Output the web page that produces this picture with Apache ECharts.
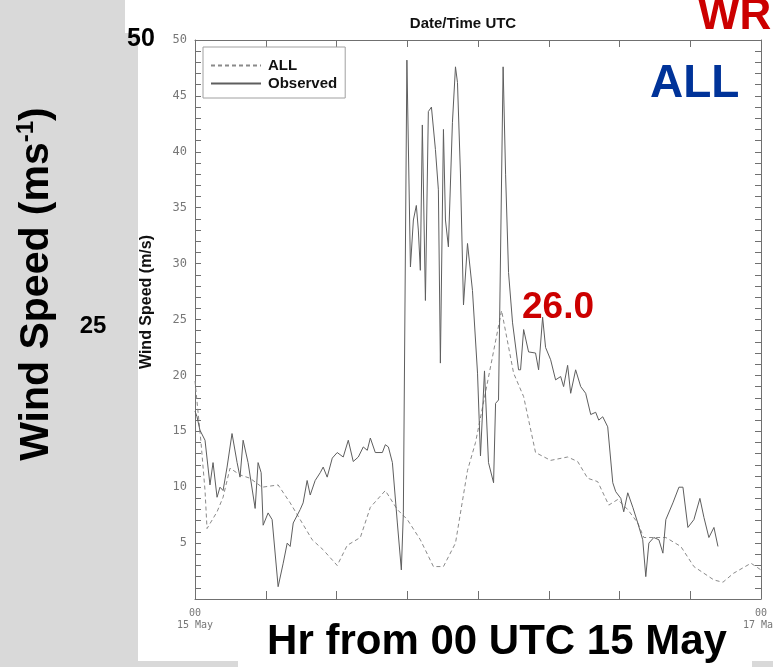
<!DOCTYPE html>
<html>
<head>
<meta charset="utf-8">
<script src="https://cdn.jsdelivr.net/npm/echarts@6/dist/echarts.min.js"></script>
<style>
html,body{margin:0;padding:0;background:#fff;}
#chart{width:773px;height:667px;}
</style>
</head>
<body>
<div id="chart"></div>
<script>
// Hours from 00 UTC 15 May, wind speed (m/s)
var obsHours = [0,0.17,0.42,0.85,1.27,1.53,1.87,2.12,2.38,2.72,3.14,3.57,3.82,4.08,4.50,5.10,5.35,5.61,5.78,6.20,6.54,7.05,7.48,7.82,8.07,8.33,8.92,9.17,9.51,9.77,10.19,10.62,10.87,11.21,11.64,12.06,12.57,13.00,13.42,13.85,14.27,14.61,14.87,15.29,15.89,16.14,16.40,16.74,17.16,17.50,17.67,17.97,18.27,18.52,18.77,18.94,19.11,19.28,19.54,19.79,20.05,20.39,20.64,20.81,21.07,21.24,21.49,21.83,22.09,22.26,22.51,22.77,23.11,23.53,23.96,24.21,24.55,24.89,25.32,25.49,25.74,26.13,26.34,26.59,26.93,27.44,27.61,27.87,28.29,28.88,29.14,29.48,29.73,30.16,30.58,31.01,31.26,31.60,31.86,32.28,32.71,33.13,33.56,33.98,34.24,34.58,35.00,35.43,35.68,36.11,36.36,36.70,37.13,37.55,37.97,38.23,38.49,38.91,39.34,39.68,39.93,40.53,41.04,41.38,41.80,42.31,42.82,43.16,43.58,44.01,44.35];
var obsSpeed = [16.8,16.3,15.1,14.2,10.2,12.2,9.1,10.0,9.7,11.8,14.8,12.2,10.9,14.2,12.2,8.1,12.2,11.3,6.6,7.7,7.1,1.1,3.2,5.0,4.7,6.8,8.0,8.6,10.6,9.3,10.6,11.3,11.8,10.9,12.6,13.1,12.7,14.2,12.3,12.7,13.6,13.3,14.4,13.1,13.1,13.8,13.6,12.2,6.8,2.6,7.7,48.2,29.7,33.9,35.2,33.0,29.4,42.4,26.7,43.6,44.0,40.2,36.6,21.1,42.0,33.9,31.5,42.6,47.6,46.2,38.1,26.3,31.8,27.6,20.2,12.8,20.4,12.2,10.4,17.5,17.8,47.6,38.0,29.2,24.7,20.5,20.5,24.1,22.1,22.0,20.5,25.2,22.5,21.4,19.6,19.9,19.0,20.9,18.4,20.5,19.0,18.4,16.5,16.7,16.0,16.3,15.4,10.4,9.6,9.0,7.8,9.5,8.2,6.8,5.3,2.0,5.0,5.5,5.3,4.1,7.1,8.6,10.0,10.0,6.4,7.1,9.0,7.3,5.5,6.4,4.7];
var allHours = [0,0.51,0.85,1.02,1.87,2.38,2.97,3.82,4.67,5.69,7.05,8.07,8.92,9.94,10.87,12.06,12.91,14.02,14.87,16.14,17.16,18.01,19.11,20.22,21.07,22.09,23.11,23.79,24.64,26.00,27.02,27.87,28.88,30.16,31.60,32.45,33.30,34.15,35.09,35.85,36.70,37.55,38.06,39.93,41.20,42.31,44.01,44.77,45.67,47.15,48.0];
var allSpeed = [19.5,14.0,9.7,6.3,7.8,9.1,11.7,11.1,10.8,10.0,10.2,8.6,7.1,5.3,4.4,3.0,4.8,5.5,8.2,9.7,8.0,7.1,5.3,2.9,2.9,5.0,11.5,14.0,18.5,25.8,20.2,18.1,13.1,12.4,12.7,12.3,10.8,10.5,8.4,8.9,8.0,6.8,5.5,5.5,4.7,2.9,1.7,1.5,2.3,3.2,2.6];
var xEndLabels = {0: '00\n15 May', 48: '00\n17 May'};
var yLabelStep = 5;
var seriesNames = ['ALL', 'Observed'];

function zip(a, b) { return a.map(function (v, i) { return [v, b[i]]; }); }

var chart = echarts.init(document.getElementById('chart'), null, {renderer: 'canvas'});
var axisGray = '#707070';
var monoFont = 'DejaVu Sans Mono';
var boldFont = 'Liberation Sans';

var option = {
  backgroundColor: '#ffffff',
  animation: false,
  grid: {left: 195, right: 12, top: 40, bottom: 68, containLabel: false, outerBoundsMode: 'none'},
  legend: {
    orient: 'vertical', left: 203, top: 47,
    padding: [11, 8, 7, 7],
    itemWidth: 50, itemHeight: 12, itemGap: 3,
    borderColor: '#a0a0a0', borderWidth: 1, backgroundColor: '#ffffff',
    itemStyle: {opacity: 0},
    textStyle: {fontFamily: boldFont, fontWeight: 'bold', fontSize: 15, color: '#111', padding: [0, 0, 0, 2]},
    data: seriesNames
  },
  xAxis: [{
    type: 'value', min: 0, max: 48, interval: 6, position: 'bottom',
    axisLine: {show: true, onZero: false, lineStyle: {color: axisGray, width: 1}},
    axisTick: {show: true, inside: true, length: 8, lineStyle: {color: axisGray}},
    splitLine: {show: false},
    axisLabel: {
      show: true, margin: 8, showMinLabel: true, showMaxLabel: true, hideOverlap: false,
      fontFamily: monoFont, fontSize: 10, lineHeight: 12, color: '#777',
      formatter: function (v) { return xEndLabels[v] || ''; }
    }
  }, {
    type: 'value', min: 0, max: 48, interval: 6, position: 'top',
    axisLine: {show: true, onZero: false, lineStyle: {color: axisGray, width: 1}},
    axisTick: {show: true, inside: true, length: 7, lineStyle: {color: axisGray}},
    splitLine: {show: false}, axisLabel: {show: false}
  }],
  yAxis: [{
    type: 'value', min: 0, max: 50, interval: 1, position: 'left',
    axisLine: {show: true, onZero: false, lineStyle: {color: axisGray, width: 1}},
    axisTick: {show: true, inside: true, length: 6, lineStyle: {color: axisGray}},
    splitLine: {show: false},
    axisLabel: {
      show: true, margin: 8, fontFamily: monoFont, fontSize: 12, color: '#777', hideOverlap: false,
      showMinLabel: true, showMaxLabel: true,
      formatter: function (v) { return (v !== 0 && v % yLabelStep === 0) ? String(v) : ''; }
    }
  }, {
    type: 'value', min: 0, max: 50, interval: 1, position: 'right',
    axisLine: {show: true, onZero: false, lineStyle: {color: axisGray, width: 1}},
    axisTick: {show: true, inside: true, length: 6, lineStyle: {color: axisGray}},
    splitLine: {show: false}, axisLabel: {show: false}
  }],
  series: [{
    name: seriesNames[0], type: 'line', symbol: 'none', xAxisIndex: 1, yAxisIndex: 1,
    data: zip(allHours, allSpeed),
    lineStyle: {color: '#8a8a8a', width: 1, type: [4, 3]},
    itemStyle: {color: '#8a8a8a'}, z: 2
  }, {
    name: seriesNames[1], type: 'line', symbol: 'none', xAxisIndex: 0, yAxisIndex: 0,
    data: zip(obsHours, obsSpeed),
    lineStyle: {color: '#5e5e5e', width: 1},
    itemStyle: {color: '#5e5e5e'}, z: 3
  }],
  graphic: [
    {type: 'polygon', z: -10, silent: true,
      shape: {points: [[0, 0], [125, 0], [125, 33], [138, 33], [138, 667], [0, 667]]},
      style: {fill: '#d9d9d9'}},
    {type: 'rect', z: -10, silent: true, shape: {x: 138, y: 661, width: 100, height: 6}, style: {fill: '#d9d9d9'}},
    {type: 'rect', z: -10, silent: true, shape: {x: 752, y: 661, width: 21, height: 6}, style: {fill: '#d9d9d9'}},
    {type: 'text', x: 37, y: 284, rotation: Math.PI / 2, z: 10,
      style: {
        text: '{a|Wind Speed (ms}{s|-1}{a|)}',
        align: 'center', verticalAlign: 'middle',
        rich: {
          a: {fontFamily: boldFont, fontWeight: 'bold', fontSize: 41, lineHeight: 46, color: '#000'},
          s: {fontFamily: boldFont, fontWeight: 'bold', fontSize: 24, lineHeight: 26, verticalAlign: 'top', color: '#000'}
        }
      }},
    {type: 'text', x: 147, y: 302, rotation: Math.PI / 2, z: 10,
      style: {text: 'Wind Speed (m/s)', align: 'center', verticalAlign: 'middle',
        fontFamily: boldFont, fontWeight: 'bold', fontSize: 16, fill: '#111'}},
    {type: 'text', x: 141, y: 39, z: 10,
      style: {text: '50', align: 'center', verticalAlign: 'middle',
        fontFamily: boldFont, fontWeight: 'bold', fontSize: 25, fill: '#000'}},
    {type: 'text', x: 93, y: 326, z: 10,
      style: {text: '25', align: 'center', verticalAlign: 'middle',
        fontFamily: boldFont, fontWeight: 'bold', fontSize: 24, fill: '#000'}},
    {type: 'text', x: 463, y: 24, z: 10,
      style: {text: 'Date/Time UTC', align: 'center', verticalAlign: 'middle',
        fontFamily: boldFont, fontWeight: 'bold', fontSize: 15, fill: '#111'}},
    {type: 'text', x: 698, y: 17, z: 10,
      style: {text: 'WR', align: 'left', verticalAlign: 'middle',
        fontFamily: boldFont, fontWeight: 'bold', fontSize: 44, fill: '#cc0000'}},
    {type: 'text', x: 650, y: 84, z: 10,
      style: {text: 'ALL', align: 'left', verticalAlign: 'middle',
        fontFamily: boldFont, fontWeight: 'bold', fontSize: 46, fill: '#003399'}},
    {type: 'text', x: 522, y: 308, z: 10,
      style: {text: '26.0', align: 'left', verticalAlign: 'middle',
        fontFamily: boldFont, fontWeight: 'bold', fontSize: 37, fill: '#cc0000'}},
    {type: 'text', x: 497, y: 642, z: 10,
      style: {text: 'Hr from 00 UTC 15 May', align: 'center', verticalAlign: 'middle',
        fontFamily: boldFont, fontWeight: 'bold', fontSize: 42, fill: '#000'}}
  ]
};
chart.setOption(option);
</script>
</body>
</html>
